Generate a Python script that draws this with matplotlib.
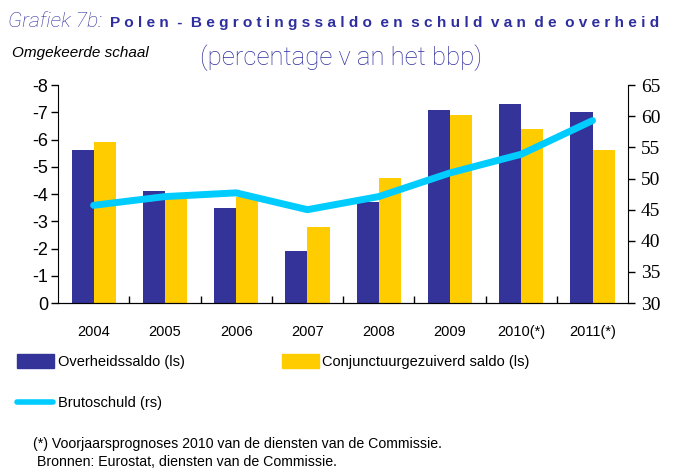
import numpy as np
import matplotlib
matplotlib.use("Agg")
import matplotlib.pyplot as plt
from matplotlib.patches import Rectangle
from matplotlib.lines import Line2D

years = ["2004", "2005", "2006", "2007", "2008", "2009", "2010(*)", "2011(*)"]
overheidssaldo = [-5.6, -4.1, -3.5, -1.9, -3.7, -7.1, -7.3, -7.0]
conjunctuur = [-5.9, -3.9, -3.9, -2.8, -4.6, -6.9, -6.4, -5.6]
brutoschuld = [45.7, 47.1, 47.7, 45.0, 47.1, 50.9, 53.9, 59.3]

navy = "#333399"
gold = "#FFCC00"
cyan = "#00CCFF"
titleblue = "#2E2E9E"

fig = plt.figure(figsize=(6.78, 4.70), dpi=100)
ax = fig.add_axes([0.0855, 0.355, 0.841, 0.464])

x = np.arange(len(years))
w = 0.31
ax.bar(x - w / 2, overheidssaldo, w, color=navy, zorder=2)
ax.bar(x + w / 2, conjunctuur, w, color=gold, zorder=2)
ax.set_xlim(-0.5, len(years) - 0.5)
ax.set_ylim(0, -8)
ax.set_yticks(np.arange(0, -9, -1))
ax.set_yticklabels([str(v) for v in range(0, -9, -1)], family="Liberation Sans", fontsize=13)
ax.set_xticks(x)
ax.set_xticklabels(years, family="Liberation Sans", fontsize=10.5)
ax.set_xticks(np.arange(0.5, len(years) - 1, 1), minor=True)
ax.tick_params(axis="x", which="major", length=0, pad=16)
ax.tick_params(axis="x", which="minor", direction="in", length=5, width=1)
ax.tick_params(axis="y", direction="out", length=5, width=1, pad=2)
ax.spines["top"].set_visible(False)
ax.spines["right"].set_visible(False)

ax2 = ax.twinx()
ax2.plot(x, brutoschuld, color=cyan, lw=5, solid_capstyle="round", zorder=3)
ax2.set_ylim(30, 65)
ax2.set_yticks(np.arange(30, 66, 5))
ax2.set_yticklabels([str(v) for v in range(30, 66, 5)], family="Liberation Serif", fontsize=14)
ax2.tick_params(axis="y", direction="out", length=5, width=1, pad=4)
ax2.spines["top"].set_visible(False)
ax2.spines["left"].set_visible(False)

# titles
fig.text(0.012, 0.955, "Grafiek 7b:", color=titleblue, fontsize=15.3, style="italic",
         family="Roboto", weight="light", va="center")
fig.text(0.162, 0.952, "P o l e n  -  B e g r o t i n g s s a l d o  e n  s c h u l d  v a n  d e  o v e r h e i d",
         color=titleblue, fontsize=11.1, weight="bold", family="Liberation Sans", va="center")
fig.text(0.018, 0.888, "Omgekeerde schaal", fontsize=11, style="italic",
         family="Liberation Sans", va="center")
fig.text(0.295, 0.878, "(percentage v an het bbp)", color=titleblue, fontsize=18.5,
         family="Roboto", weight="light", va="center")

# legend
fig.patches.append(Rectangle((0.025, 0.218), 0.055, 0.028, transform=fig.transFigure,
                             color=navy, figure=fig))
fig.text(0.085, 0.230, "Overheidssaldo (ls)", fontsize=10.5, family="Liberation Sans", va="center")
fig.patches.append(Rectangle((0.416, 0.218), 0.055, 0.028, transform=fig.transFigure,
                             color=gold, figure=fig))
fig.text(0.475, 0.230, "Conjunctuurgezuiverd saldo (ls)", fontsize=10.5,
         family="Liberation Sans", va="center")
fig.lines.append(Line2D([0.025, 0.078], [0.145, 0.145], transform=fig.transFigure,
                        color=cyan, lw=4, solid_capstyle="round"))
fig.text(0.085, 0.143, "Brutoschuld (rs)", fontsize=10.5, family="Liberation Sans", va="center")

# footnote
fig.text(0.048, 0.056, "(*) Voorjaarsprognoses 2010 van de diensten van de Commissie.",
         fontsize=10.2, family="Liberation Sans", va="center")
fig.text(0.055, 0.016, "Bronnen: Eurostat, diensten van de Commissie.",
         fontsize=10.2, family="Liberation Sans", va="center")

fig.savefig("out.png", dpi=100)
